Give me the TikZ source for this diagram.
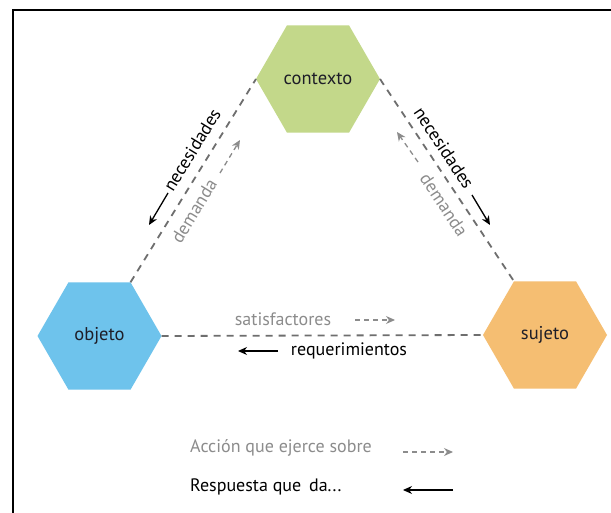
\documentclass[tikz,border=0pt]{standalone}
\usepackage{fontspec}
\setmainfont{PT Sans}
\usetikzlibrary{shapes.geometric,arrows.meta}
\definecolor{ctxgreen}{HTML}{C3D88A}
\definecolor{objblue}{HTML}{6EC3EC}
\definecolor{sujorange}{HTML}{F5BE72}
\definecolor{linegray}{HTML}{6E6E6E}
\definecolor{txtgray}{HTML}{8C8C8C}
\definecolor{hextxt}{HTML}{1E1E28}
\tikzset{
  hexa/.style={regular polygon, regular polygon sides=6, minimum size=124pt,
    inner sep=0pt, outer sep=0pt, text=hextxt, font=\fontsize{18.5}{20}\selectfont},
  edge/.style={draw=linegray, line width=1.8pt, dash pattern=on 7pt off 6pt},
  lbl/.style={inner sep=0pt, font=\fontsize{18}{20}\selectfont},
  graylbl/.style={lbl, text=txtgray},
  blacklbl/.style={lbl, text=black},
  resparrow/.style={draw=black, line width=1.3pt, -{Stealth[length=9pt,width=8pt]}},
  actarrow/.style={draw=txtgray, line width=1.3pt, dash pattern=on 5pt off 4pt, -{Stealth[length=9pt,width=8pt]}},
}
\begin{document}
\begin{tikzpicture}[x=1pt,y=-1pt]
\useasboundingbox (0,0) rectangle (611,513);
\fill[white] (0,0) rectangle (611,513);
\draw[line width=2.5pt, line cap=rect] (13,513) -- (13,10) -- (611,10);

\node[hexa, fill=ctxgreen] (ctx) at (318,79) {contexto};
\node[hexa, fill=objblue] (obj) at (99.5,336) {objeto};
\node[hexa, fill=sujorange] (suj) at (545,335) {sujeto};

\draw[edge] (obj.60) -- (ctx.180);
\draw[edge] (ctx.0) -- (suj.120);
\draw[edge] (obj.0) -- (suj.180);

% left edge
\node[blacklbl, rotate=58.5] (nec1) at (192,150) {necesidades};
\node[graylbl, rotate=58.5] (dem1) at (194,211) {demanda};
\coordinate (n1a) at (168,193); \coordinate (n1b) at (149,225);
\coordinate (d1a) at (220,173); \coordinate (d1b) at (240,140);
\draw[resparrow] (n1a) -- (n1b);
\draw[actarrow] (d1a) -- (d1b);

% right edge
\node[blacklbl, rotate=-56.4] (nec2) at (444,148) {necesidades};
\node[graylbl, rotate=-56.4] (dem2) at (444,205) {demanda};
\coordinate (n2a) at (472,195); \coordinate (n2b) at (490,225);
\coordinate (d2a) at (418,162); \coordinate (d2b) at (397,132);
\draw[resparrow] (n2a) -- (n2b);
\draw[actarrow] (d2a) -- (d2b);

% bottom edge
\node[graylbl] (sat) at (283,319) {satisfactores};
\node[blacklbl] (req) at (349,351) {requerimientos};
\coordinate (sa) at (355,320); \coordinate (sb) at (395,320);
\coordinate (ra) at (278,351); \coordinate (rb) at (238,351);
\draw[actarrow] (sa) -- (sb);
\draw[resparrow] (ra) -- (rb);

% legend
\node[graylbl, anchor=west] (leg1) at (190,448) {Acción que ejerce sobre};
\node[blacklbl, anchor=west] (leg2) at (190,487) {Respuesta que\hspace{3pt} da...};
\coordinate (l1a) at (403,452); \coordinate (l1b) at (453,452);
\coordinate (l2a) at (453,490); \coordinate (l2b) at (403,490);
\draw[actarrow] (l1a) -- (l1b);
\draw[resparrow] (l2a) -- (l2b);
\end{tikzpicture}
\end{document}
